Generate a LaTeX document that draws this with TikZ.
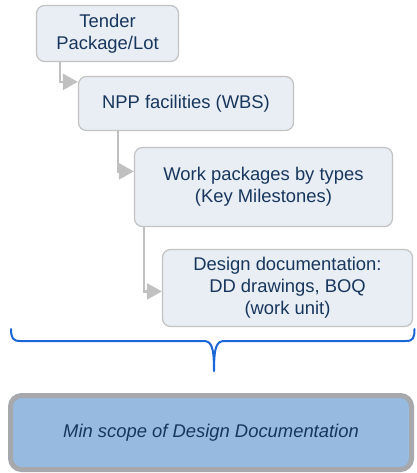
\documentclass[tikz,border=0pt]{standalone}
\usepackage{fontspec}
\setmainfont{Liberation Sans}
\usetikzlibrary{arrows.meta}
\definecolor{boxfill}{HTML}{E9EEF4}
\definecolor{boxline}{HTML}{C2C2C2}
\definecolor{txt}{HTML}{17365D}
\definecolor{conncol}{HTML}{C0C0C0}
\definecolor{bracecol}{HTML}{1A66D6}
\definecolor{scopefill}{HTML}{97BAE1}
\definecolor{scopeline}{HTML}{A6A8AB}
\tikzset{
  lvlbox/.style={draw=boxline, line width=1.2pt, fill=boxfill, rounded corners=8pt,
    text=txt, align=center, inner sep=0pt,
    font=\fontsize{18.4}{22}\selectfont},
  conn/.style={draw=conncol, line width=2.5pt,
    -{Triangle[length=15pt,width=16pt]}},
  bracestyle/.style={draw=bracecol, line width=2pt, line join=round, line cap=round},
  scopebox/.style={draw=scopeline, line width=5pt, fill=scopefill, rounded corners=11pt,
    text=txt, inner sep=0pt, font=\fontsize{18.4}{22}\selectfont\itshape}
}
\begin{document}
\begin{tikzpicture}[x=1pt,y=-1pt]
\useasboundingbox (0,0) rectangle (416,473);
\node[lvlbox, minimum width=142pt, minimum height=56pt] (b1) at (107.5,33.5) {Tender\\Package/Lot};
\node[lvlbox, minimum width=215pt, minimum height=54pt] (b2) at (186,103.5) {NPP facilities (WBS)};
\node[lvlbox, minimum width=258pt, minimum height=79pt] (b3) at (263.5,187) {Work packages by types\\(Key Milestones)};
\node[lvlbox, minimum width=250pt, minimum height=77pt] (b4) at (287.5,288) {Design documentation:\\DD drawings, BOQ\\(work unit)};
\node[scopebox, minimum width=401pt, minimum height=74pt] (sc) at (211,432.5) {Min scope of Design Documentation};
\draw[conn] ([xshift=24pt]b1.south west) |- ([yshift=-6pt]b2.north west);
\draw[conn] ([xshift=40pt]b2.south west) |- ([yshift=-24.5pt]b3.north west);
\draw[conn] ([xshift=10pt]b3.south west) |- ([yshift=-42.5pt]b4.north west);
\coordinate (brl) at (11,329);
\coordinate (brr) at (414.5,329);
\coordinate (brt) at (214,371);
\draw[bracestyle] (brl) .. controls (11,338) and (13,341) .. (20,341) -- (203,341)
  .. controls (211,341) and (214,345) .. (brt)
  .. controls (214,345) and (217,341) .. (225,341) -- (406,341)
  .. controls (413,341) and (414.5,338) .. (brr);
\end{tikzpicture}
\end{document}
